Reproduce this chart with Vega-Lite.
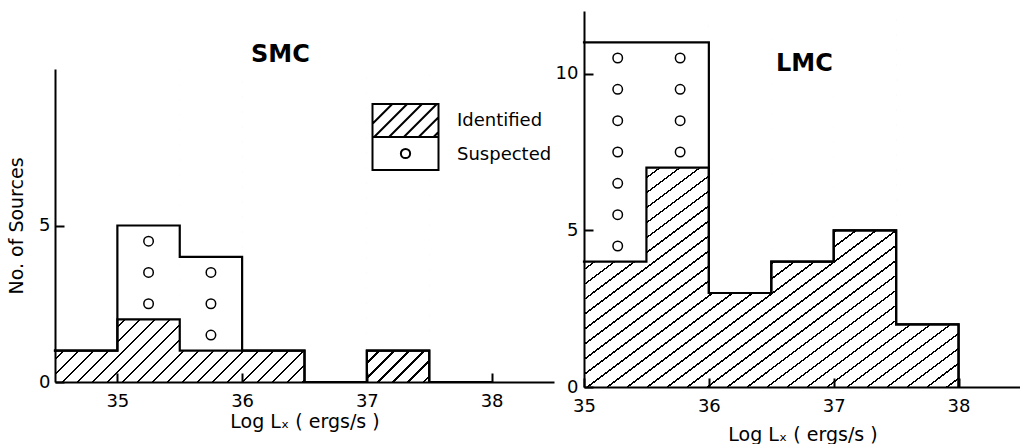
{
"$schema":"https://vega.github.io/schema/vega-lite/v6.json",
"autosize":{"type":"pad"},
"padding":{"left":7,"top":10,"right":0,"bottom":2},
"background":"white",
"bounds":"flush",
"spacing":30,
"config":{
 "view":{"stroke":null},
 "font":"DejaVu Sans",
 "axis":{"grid":false,"domainColor":"black","domainWidth":2,"tickColor":"black","tickWidth":2,"tickSize":-9,"labelFlush":false,"labelFont":"DejaVu Sans","labelFontSize":18,"labelColor":"black","titleFont":"DejaVu Sans","titleFontSize":19,"titleFontWeight":"normal","titleColor":"black","zindex":1},
 "title":{"font":"DejaVu Sans","fontSize":24,"fontWeight":"bold","color":"black"}
},
"datasets":{
 "smc":[
  {"lo":34.5,"hi":35,"identified":1,"total":1},
  {"lo":35,"hi":35.5,"identified":2,"total":5},
  {"lo":35.5,"hi":36,"identified":1,"total":4},
  {"lo":36,"hi":36.5,"identified":1,"total":1},
  {"lo":36.5,"hi":37,"identified":0,"total":0},
  {"lo":37,"hi":37.5,"identified":1,"total":1},
  {"lo":37.5,"hi":38,"identified":0,"total":0},
  {"lo":38,"hi":38.5,"identified":0,"total":0}
 ],
 "smcSus":[
  {"lx":35.25,"n":2.5},{"lx":35.25,"n":3.5},{"lx":35.25,"n":4.5},
  {"lx":35.75,"n":1.5},{"lx":35.75,"n":2.5},{"lx":35.75,"n":3.5}
 ],
 "lmc":[
  {"lo":35,"hi":35.5,"identified":4,"total":11},
  {"lo":35.5,"hi":36,"identified":7,"total":11},
  {"lo":36,"hi":36.5,"identified":3,"total":3},
  {"lo":36.5,"hi":37,"identified":4,"total":4},
  {"lo":37,"hi":37.5,"identified":5,"total":5},
  {"lo":37.5,"hi":38,"identified":2,"total":2},
  {"lo":38,"hi":38.5,"identified":0,"total":0}
 ],
 "lmcSus":[
  {"lx":35.27,"n":4.5},{"lx":35.27,"n":5.5},{"lx":35.27,"n":6.5},{"lx":35.27,"n":7.5},{"lx":35.27,"n":8.5},{"lx":35.27,"n":9.5},{"lx":35.27,"n":10.5},
  {"lx":35.77,"n":7.5},{"lx":35.77,"n":8.5},{"lx":35.77,"n":9.5},{"lx":35.77,"n":10.5}
 ]
},
"hconcat":[
{
 "width":499,"height":371,
 "title":{"text":"SMC","anchor":"start","frame":"group","offset":0,"baseline":"alphabetic","dx":196,"dy":75},
 "layer":[
  {"data":{"name":"smc"},
   "mark":{"type":"rect","fill":{"gradient":"linear","x1":0,"y1":0,"x2":1.1677,"y2":0.7326,"stops":[
{"offset":0.005,"color":"#fff"},{"offset":0.005,"color":"#000"},{"offset":0.0076,"color":"#000"},{"offset":0.0076,"color":"#fff"},
{"offset":0.0235,"color":"#fff"},{"offset":0.0235,"color":"#000"},{"offset":0.0261,"color":"#000"},{"offset":0.0261,"color":"#fff"},
{"offset":0.042,"color":"#fff"},{"offset":0.042,"color":"#000"},{"offset":0.0446,"color":"#000"},{"offset":0.0446,"color":"#fff"},
{"offset":0.0605,"color":"#fff"},{"offset":0.0605,"color":"#000"},{"offset":0.0631,"color":"#000"},{"offset":0.0631,"color":"#fff"},
{"offset":0.079,"color":"#fff"},{"offset":0.079,"color":"#000"},{"offset":0.0816,"color":"#000"},{"offset":0.0816,"color":"#fff"},
{"offset":0.0975,"color":"#fff"},{"offset":0.0975,"color":"#000"},{"offset":0.1001,"color":"#000"},{"offset":0.1001,"color":"#fff"},
{"offset":0.116,"color":"#fff"},{"offset":0.116,"color":"#000"},{"offset":0.1186,"color":"#000"},{"offset":0.1186,"color":"#fff"},
{"offset":0.1345,"color":"#fff"},{"offset":0.1345,"color":"#000"},{"offset":0.1371,"color":"#000"},{"offset":0.1371,"color":"#fff"},
{"offset":0.153,"color":"#fff"},{"offset":0.153,"color":"#000"},{"offset":0.1556,"color":"#000"},{"offset":0.1556,"color":"#fff"},
{"offset":0.1715,"color":"#fff"},{"offset":0.1715,"color":"#000"},{"offset":0.1741,"color":"#000"},{"offset":0.1741,"color":"#fff"},
{"offset":0.19,"color":"#fff"},{"offset":0.19,"color":"#000"},{"offset":0.1926,"color":"#000"},{"offset":0.1926,"color":"#fff"},
{"offset":0.2085,"color":"#fff"},{"offset":0.2085,"color":"#000"},{"offset":0.2111,"color":"#000"},{"offset":0.2111,"color":"#fff"},
{"offset":0.227,"color":"#fff"},{"offset":0.227,"color":"#000"},{"offset":0.2296,"color":"#000"},{"offset":0.2296,"color":"#fff"},
{"offset":0.2455,"color":"#fff"},{"offset":0.2455,"color":"#000"},{"offset":0.2481,"color":"#000"},{"offset":0.2481,"color":"#fff"},
{"offset":0.264,"color":"#fff"},{"offset":0.264,"color":"#000"},{"offset":0.2666,"color":"#000"},{"offset":0.2666,"color":"#fff"},
{"offset":0.2825,"color":"#fff"},{"offset":0.2825,"color":"#000"},{"offset":0.2851,"color":"#000"},{"offset":0.2851,"color":"#fff"},
{"offset":0.301,"color":"#fff"},{"offset":0.301,"color":"#000"},{"offset":0.3036,"color":"#000"},{"offset":0.3036,"color":"#fff"},
{"offset":0.3195,"color":"#fff"},{"offset":0.3195,"color":"#000"},{"offset":0.3221,"color":"#000"},{"offset":0.3221,"color":"#fff"},
{"offset":0.338,"color":"#fff"},{"offset":0.338,"color":"#000"},{"offset":0.3406,"color":"#000"},{"offset":0.3406,"color":"#fff"},
{"offset":0.3565,"color":"#fff"},{"offset":0.3565,"color":"#000"},{"offset":0.3591,"color":"#000"},{"offset":0.3591,"color":"#fff"},
{"offset":0.375,"color":"#fff"},{"offset":0.375,"color":"#000"},{"offset":0.3776,"color":"#000"},{"offset":0.3776,"color":"#fff"},
{"offset":0.3935,"color":"#fff"},{"offset":0.3935,"color":"#000"},{"offset":0.3961,"color":"#000"},{"offset":0.3961,"color":"#fff"},
{"offset":0.412,"color":"#fff"},{"offset":0.412,"color":"#000"},{"offset":0.4146,"color":"#000"},{"offset":0.4146,"color":"#fff"},
{"offset":0.4305,"color":"#fff"},{"offset":0.4305,"color":"#000"},{"offset":0.4331,"color":"#000"},{"offset":0.4331,"color":"#fff"},
{"offset":0.449,"color":"#fff"},{"offset":0.449,"color":"#000"},{"offset":0.4516,"color":"#000"},{"offset":0.4516,"color":"#fff"},
{"offset":0.4675,"color":"#fff"},{"offset":0.4675,"color":"#000"},{"offset":0.4701,"color":"#000"},{"offset":0.4701,"color":"#fff"},
{"offset":0.486,"color":"#fff"},{"offset":0.486,"color":"#000"},{"offset":0.4886,"color":"#000"},{"offset":0.4886,"color":"#fff"},
{"offset":0.5045,"color":"#fff"},{"offset":0.5045,"color":"#000"},{"offset":0.5071,"color":"#000"},{"offset":0.5071,"color":"#fff"},
{"offset":0.523,"color":"#fff"},{"offset":0.523,"color":"#000"},{"offset":0.5256,"color":"#000"},{"offset":0.5256,"color":"#fff"},
{"offset":0.5415,"color":"#fff"},{"offset":0.5415,"color":"#000"},{"offset":0.5441,"color":"#000"},{"offset":0.5441,"color":"#fff"},
{"offset":0.56,"color":"#fff"},{"offset":0.56,"color":"#000"},{"offset":0.5626,"color":"#000"},{"offset":0.5626,"color":"#fff"},
{"offset":0.5785,"color":"#fff"},{"offset":0.5785,"color":"#000"},{"offset":0.5811,"color":"#000"},{"offset":0.5811,"color":"#fff"},
{"offset":0.597,"color":"#fff"},{"offset":0.597,"color":"#000"},{"offset":0.5996,"color":"#000"},{"offset":0.5996,"color":"#fff"},
{"offset":0.6155,"color":"#fff"},{"offset":0.6155,"color":"#000"},{"offset":0.6181,"color":"#000"},{"offset":0.6181,"color":"#fff"},
{"offset":0.634,"color":"#fff"},{"offset":0.634,"color":"#000"},{"offset":0.6366,"color":"#000"},{"offset":0.6366,"color":"#fff"},
{"offset":0.6525,"color":"#fff"},{"offset":0.6525,"color":"#000"},{"offset":0.6551,"color":"#000"},{"offset":0.6551,"color":"#fff"},
{"offset":0.671,"color":"#fff"},{"offset":0.671,"color":"#000"},{"offset":0.6736,"color":"#000"},{"offset":0.6736,"color":"#fff"},
{"offset":0.6895,"color":"#fff"},{"offset":0.6895,"color":"#000"},{"offset":0.6921,"color":"#000"},{"offset":0.6921,"color":"#fff"},
{"offset":0.708,"color":"#fff"},{"offset":0.708,"color":"#000"},{"offset":0.7106,"color":"#000"},{"offset":0.7106,"color":"#fff"},
{"offset":0.7265,"color":"#fff"},{"offset":0.7265,"color":"#000"},{"offset":0.7291,"color":"#000"},{"offset":0.7291,"color":"#fff"},
{"offset":0.745,"color":"#fff"},{"offset":0.745,"color":"#000"},{"offset":0.7476,"color":"#000"},{"offset":0.7476,"color":"#fff"},
{"offset":0.7635,"color":"#fff"},{"offset":0.7635,"color":"#000"},{"offset":0.7661,"color":"#000"},{"offset":0.7661,"color":"#fff"},
{"offset":0.782,"color":"#fff"},{"offset":0.782,"color":"#000"},{"offset":0.7846,"color":"#000"},{"offset":0.7846,"color":"#fff"},
{"offset":0.8005,"color":"#fff"},{"offset":0.8005,"color":"#000"},{"offset":0.8031,"color":"#000"},{"offset":0.8031,"color":"#fff"},
{"offset":0.819,"color":"#fff"},{"offset":0.819,"color":"#000"},{"offset":0.8216,"color":"#000"},{"offset":0.8216,"color":"#fff"},
{"offset":0.8375,"color":"#fff"},{"offset":0.8375,"color":"#000"},{"offset":0.8401,"color":"#000"},{"offset":0.8401,"color":"#fff"},
{"offset":0.856,"color":"#fff"},{"offset":0.856,"color":"#000"},{"offset":0.8586,"color":"#000"},{"offset":0.8586,"color":"#fff"},
{"offset":0.8745,"color":"#fff"},{"offset":0.8745,"color":"#000"},{"offset":0.8771,"color":"#000"},{"offset":0.8771,"color":"#fff"},
{"offset":0.893,"color":"#fff"},{"offset":0.893,"color":"#000"},{"offset":0.8956,"color":"#000"},{"offset":0.8956,"color":"#fff"},
{"offset":0.9115,"color":"#fff"},{"offset":0.9115,"color":"#000"},{"offset":0.9141,"color":"#000"},{"offset":0.9141,"color":"#fff"},
{"offset":0.93,"color":"#fff"},{"offset":0.93,"color":"#000"},{"offset":0.9326,"color":"#000"},{"offset":0.9326,"color":"#fff"},
{"offset":0.9485,"color":"#fff"},{"offset":0.9485,"color":"#000"},{"offset":0.9511,"color":"#000"},{"offset":0.9511,"color":"#fff"},
{"offset":0.967,"color":"#fff"},{"offset":0.967,"color":"#000"},{"offset":0.9696,"color":"#000"},{"offset":0.9696,"color":"#fff"},
{"offset":0.9855,"color":"#fff"},{"offset":0.9855,"color":"#000"},{"offset":0.9881,"color":"#000"},{"offset":0.9881,"color":"#fff"}
   ]}},
   "encoding":{
    "x":{"field":"lo","aggregate":"min","type":"quantitative","title":"Log Lₓ ( ergs/s )","scale":{"domain":[34.5,38.5],"nice":false,"zero":false},"axis":{"values":[35,36,37,38],"format":"d","labelPadding":19,"titlePadding":2,"zindex":1}},
    "x2":{"field":"hi","aggregate":"max"},
    "y":{"datum":0,"type":"quantitative","scale":{"domain":[0,10],"range":[371,58],"nice":false,"zero":false},"axis":{"values":[0,5],"format":"d","title":"No. of Sources","labelPadding":14,"titlePadding":12,"zindex":1}},
    "y2":{"datum":10}
   }},
  {"data":{"name":"smc"},
   "mark":{"type":"rect","fill":"white","stroke":"white","strokeWidth":1},
   "encoding":{
    "x":{"field":"lo","type":"quantitative","title":"Log Lₓ ( ergs/s )"},
    "x2":{"field":"hi"},
    "y":{"field":"identified","type":"quantitative","title":"No. of Sources"},
    "y2":{"datum":10}
   }},
  {"data":{"name":"smc"},
   "mark":{"type":"line","interpolate":"step-after","strokeWidth":2.2,"strokeCap":"square","strokeJoin":"miter"},
   "encoding":{
    "x":{"field":"lo","type":"quantitative","title":"Log Lₓ ( ergs/s )"},
    "y":{"field":"identified","type":"quantitative","title":"No. of Sources"},
    "color":{"datum":"Identified","type":"nominal","scale":{"domain":["Identified","Suspected"],"range":["black","black"]},
     "legend":{"title":null,"orient":"none","legendX":333,"legendY":92,"symbolSize":1089,"symbolStrokeWidth":2,"symbolType":"square","labelFont":"DejaVu Sans","labelFontSize":18,"labelColor":"black","labelOffset":34,"rowPadding":0,"padding":0,
      "encode":{
       "symbols":{"update":{
        "shape":{"signal":"datum.value === 'Identified' ? 'M-2,-1H2V1H-2Z M-2,0.2L-0.8,-1 M-1.9,1L0.1,-1 M-1,1L1,-1 M-0.1,1L1.9,-1 M0.8,1L2,-0.2 M1.7,1L2,0.7 M-2,1H2V3H-2Z M0.28,2A0.28,0.28 0 1,1 -0.28,2A0.28,0.28 0 1,1 0.28,2Z' : 'M-0.1,-0.1H0.1V0.1H-0.1Z'"},
        "fill":{"value":"white"},"stroke":{"value":"black"},"strokeWidth":{"value":2},
        "opacity":{"signal":"datum.value === 'Identified' ? 1 : 0"}}},
       "labels":{"update":{
        "text":{"signal":"datum.value === 'Identified' ? ['Identified', 'Suspected'] : ''"},
        "lineHeight":{"value":34}}}}}}
   }},
  {"data":{"name":"smc"},
   "mark":{"type":"line","interpolate":"step-after","strokeWidth":2.2,"strokeCap":"square","strokeJoin":"miter"},
   "encoding":{
    "x":{"field":"lo","type":"quantitative","title":"Log Lₓ ( ergs/s )"},
    "y":{"field":"total","type":"quantitative","title":"No. of Sources"},
    "color":{"datum":"Suspected","type":"nominal"}
   }},
  {"data":{"name":"smcSus"},
   "mark":{"type":"point","shape":"circle","filled":false,"stroke":"black","strokeWidth":1.5,"size":90,"opacity":1},
   "encoding":{
    "x":{"field":"lx","type":"quantitative","title":"Log Lₓ ( ergs/s )"},
    "y":{"field":"n","type":"quantitative","title":"No. of Sources"}
   }}
 ]
},
{
 "width":437,"height":376,
 "title":{"text":"LMC","anchor":"start","frame":"group","offset":0,"baseline":"alphabetic","dx":192,"dy":84},
 "layer":[
  {"data":{"name":"lmc"},
   "mark":{"type":"rect","fill":{"gradient":"linear","x1":0,"y1":0,"x2":0.9271,"y2":1.0635,"stops":[
{"offset":0.004,"color":"#fff"},{"offset":0.004,"color":"#000"},{"offset":0.0067,"color":"#000"},{"offset":0.0067,"color":"#fff"},
{"offset":0.0253,"color":"#fff"},{"offset":0.0253,"color":"#000"},{"offset":0.028,"color":"#000"},{"offset":0.028,"color":"#fff"},
{"offset":0.0466,"color":"#fff"},{"offset":0.0466,"color":"#000"},{"offset":0.0493,"color":"#000"},{"offset":0.0493,"color":"#fff"},
{"offset":0.0679,"color":"#fff"},{"offset":0.0679,"color":"#000"},{"offset":0.0706,"color":"#000"},{"offset":0.0706,"color":"#fff"},
{"offset":0.0892,"color":"#fff"},{"offset":0.0892,"color":"#000"},{"offset":0.0919,"color":"#000"},{"offset":0.0919,"color":"#fff"},
{"offset":0.1105,"color":"#fff"},{"offset":0.1105,"color":"#000"},{"offset":0.1132,"color":"#000"},{"offset":0.1132,"color":"#fff"},
{"offset":0.1318,"color":"#fff"},{"offset":0.1318,"color":"#000"},{"offset":0.1345,"color":"#000"},{"offset":0.1345,"color":"#fff"},
{"offset":0.1531,"color":"#fff"},{"offset":0.1531,"color":"#000"},{"offset":0.1558,"color":"#000"},{"offset":0.1558,"color":"#fff"},
{"offset":0.1744,"color":"#fff"},{"offset":0.1744,"color":"#000"},{"offset":0.1771,"color":"#000"},{"offset":0.1771,"color":"#fff"},
{"offset":0.1957,"color":"#fff"},{"offset":0.1957,"color":"#000"},{"offset":0.1984,"color":"#000"},{"offset":0.1984,"color":"#fff"},
{"offset":0.217,"color":"#fff"},{"offset":0.217,"color":"#000"},{"offset":0.2197,"color":"#000"},{"offset":0.2197,"color":"#fff"},
{"offset":0.2383,"color":"#fff"},{"offset":0.2383,"color":"#000"},{"offset":0.241,"color":"#000"},{"offset":0.241,"color":"#fff"},
{"offset":0.2596,"color":"#fff"},{"offset":0.2596,"color":"#000"},{"offset":0.2623,"color":"#000"},{"offset":0.2623,"color":"#fff"},
{"offset":0.2809,"color":"#fff"},{"offset":0.2809,"color":"#000"},{"offset":0.2836,"color":"#000"},{"offset":0.2836,"color":"#fff"},
{"offset":0.3022,"color":"#fff"},{"offset":0.3022,"color":"#000"},{"offset":0.3049,"color":"#000"},{"offset":0.3049,"color":"#fff"},
{"offset":0.3235,"color":"#fff"},{"offset":0.3235,"color":"#000"},{"offset":0.3262,"color":"#000"},{"offset":0.3262,"color":"#fff"},
{"offset":0.3448,"color":"#fff"},{"offset":0.3448,"color":"#000"},{"offset":0.3475,"color":"#000"},{"offset":0.3475,"color":"#fff"},
{"offset":0.3661,"color":"#fff"},{"offset":0.3661,"color":"#000"},{"offset":0.3688,"color":"#000"},{"offset":0.3688,"color":"#fff"},
{"offset":0.3874,"color":"#fff"},{"offset":0.3874,"color":"#000"},{"offset":0.3901,"color":"#000"},{"offset":0.3901,"color":"#fff"},
{"offset":0.4087,"color":"#fff"},{"offset":0.4087,"color":"#000"},{"offset":0.4114,"color":"#000"},{"offset":0.4114,"color":"#fff"},
{"offset":0.43,"color":"#fff"},{"offset":0.43,"color":"#000"},{"offset":0.4327,"color":"#000"},{"offset":0.4327,"color":"#fff"},
{"offset":0.4513,"color":"#fff"},{"offset":0.4513,"color":"#000"},{"offset":0.454,"color":"#000"},{"offset":0.454,"color":"#fff"},
{"offset":0.4726,"color":"#fff"},{"offset":0.4726,"color":"#000"},{"offset":0.4753,"color":"#000"},{"offset":0.4753,"color":"#fff"},
{"offset":0.4939,"color":"#fff"},{"offset":0.4939,"color":"#000"},{"offset":0.4966,"color":"#000"},{"offset":0.4966,"color":"#fff"},
{"offset":0.5152,"color":"#fff"},{"offset":0.5152,"color":"#000"},{"offset":0.5179,"color":"#000"},{"offset":0.5179,"color":"#fff"},
{"offset":0.5365,"color":"#fff"},{"offset":0.5365,"color":"#000"},{"offset":0.5392,"color":"#000"},{"offset":0.5392,"color":"#fff"},
{"offset":0.5578,"color":"#fff"},{"offset":0.5578,"color":"#000"},{"offset":0.5605,"color":"#000"},{"offset":0.5605,"color":"#fff"},
{"offset":0.5791,"color":"#fff"},{"offset":0.5791,"color":"#000"},{"offset":0.5818,"color":"#000"},{"offset":0.5818,"color":"#fff"},
{"offset":0.6004,"color":"#fff"},{"offset":0.6004,"color":"#000"},{"offset":0.6031,"color":"#000"},{"offset":0.6031,"color":"#fff"},
{"offset":0.6217,"color":"#fff"},{"offset":0.6217,"color":"#000"},{"offset":0.6244,"color":"#000"},{"offset":0.6244,"color":"#fff"},
{"offset":0.643,"color":"#fff"},{"offset":0.643,"color":"#000"},{"offset":0.6457,"color":"#000"},{"offset":0.6457,"color":"#fff"},
{"offset":0.6643,"color":"#fff"},{"offset":0.6643,"color":"#000"},{"offset":0.667,"color":"#000"},{"offset":0.667,"color":"#fff"},
{"offset":0.6856,"color":"#fff"},{"offset":0.6856,"color":"#000"},{"offset":0.6883,"color":"#000"},{"offset":0.6883,"color":"#fff"},
{"offset":0.7069,"color":"#fff"},{"offset":0.7069,"color":"#000"},{"offset":0.7096,"color":"#000"},{"offset":0.7096,"color":"#fff"},
{"offset":0.7282,"color":"#fff"},{"offset":0.7282,"color":"#000"},{"offset":0.7309,"color":"#000"},{"offset":0.7309,"color":"#fff"},
{"offset":0.7495,"color":"#fff"},{"offset":0.7495,"color":"#000"},{"offset":0.7522,"color":"#000"},{"offset":0.7522,"color":"#fff"},
{"offset":0.7708,"color":"#fff"},{"offset":0.7708,"color":"#000"},{"offset":0.7735,"color":"#000"},{"offset":0.7735,"color":"#fff"},
{"offset":0.7921,"color":"#fff"},{"offset":0.7921,"color":"#000"},{"offset":0.7948,"color":"#000"},{"offset":0.7948,"color":"#fff"},
{"offset":0.8134,"color":"#fff"},{"offset":0.8134,"color":"#000"},{"offset":0.8161,"color":"#000"},{"offset":0.8161,"color":"#fff"},
{"offset":0.8347,"color":"#fff"},{"offset":0.8347,"color":"#000"},{"offset":0.8374,"color":"#000"},{"offset":0.8374,"color":"#fff"},
{"offset":0.856,"color":"#fff"},{"offset":0.856,"color":"#000"},{"offset":0.8587,"color":"#000"},{"offset":0.8587,"color":"#fff"},
{"offset":0.8773,"color":"#fff"},{"offset":0.8773,"color":"#000"},{"offset":0.88,"color":"#000"},{"offset":0.88,"color":"#fff"},
{"offset":0.8986,"color":"#fff"},{"offset":0.8986,"color":"#000"},{"offset":0.9013,"color":"#000"},{"offset":0.9013,"color":"#fff"},
{"offset":0.9199,"color":"#fff"},{"offset":0.9199,"color":"#000"},{"offset":0.9226,"color":"#000"},{"offset":0.9226,"color":"#fff"},
{"offset":0.9412,"color":"#fff"},{"offset":0.9412,"color":"#000"},{"offset":0.9439,"color":"#000"},{"offset":0.9439,"color":"#fff"},
{"offset":0.9625,"color":"#fff"},{"offset":0.9625,"color":"#000"},{"offset":0.9652,"color":"#000"},{"offset":0.9652,"color":"#fff"},
{"offset":0.9838,"color":"#fff"},{"offset":0.9838,"color":"#000"},{"offset":0.9865,"color":"#000"},{"offset":0.9865,"color":"#fff"}
   ]}},
   "encoding":{
    "x":{"field":"lo","aggregate":"min","type":"quantitative","title":"Log Lₓ ( ergs/s )","scale":{"domain":[35,38.5],"nice":false,"zero":false},"axis":{"values":[35,36,37,38],"format":"d","labelPadding":19,"titlePadding":10,"zindex":1}},
    "x2":{"field":"hi","aggregate":"max"},
    "y":{"datum":0,"type":"quantitative","scale":{"domain":[0,12],"nice":false,"zero":false},"axis":{"values":[0,5,10],"format":"d","title":null,"labelPadding":15,"zindex":1}},
    "y2":{"datum":12}
   }},
  {"data":{"name":"lmc"},
   "mark":{"type":"rect","fill":"white","stroke":"white","strokeWidth":1},
   "encoding":{
    "x":{"field":"lo","type":"quantitative","title":"Log Lₓ ( ergs/s )"},
    "x2":{"field":"hi"},
    "y":{"field":"identified","type":"quantitative","title":null},
    "y2":{"datum":12}
   }},
  {"data":{"name":"lmc"},
   "mark":{"type":"line","interpolate":"step-after","strokeWidth":2.2,"strokeCap":"square","strokeJoin":"miter","color":"black"},
   "encoding":{
    "x":{"field":"lo","type":"quantitative","title":"Log Lₓ ( ergs/s )"},
    "y":{"field":"identified","type":"quantitative","title":null}
   }},
  {"data":{"name":"lmc"},
   "mark":{"type":"line","interpolate":"step-after","strokeWidth":2.2,"strokeCap":"square","strokeJoin":"miter","color":"black"},
   "encoding":{
    "x":{"field":"lo","type":"quantitative","title":"Log Lₓ ( ergs/s )"},
    "y":{"field":"total","type":"quantitative","title":null}
   }},
  {"data":{"name":"lmcSus"},
   "mark":{"type":"point","shape":"circle","filled":false,"stroke":"black","strokeWidth":1.5,"size":90,"opacity":1},
   "encoding":{
    "x":{"field":"lx","type":"quantitative","title":"Log Lₓ ( ergs/s )"},
    "y":{"field":"n","type":"quantitative","title":null}
   }}
 ]
}
]
}
